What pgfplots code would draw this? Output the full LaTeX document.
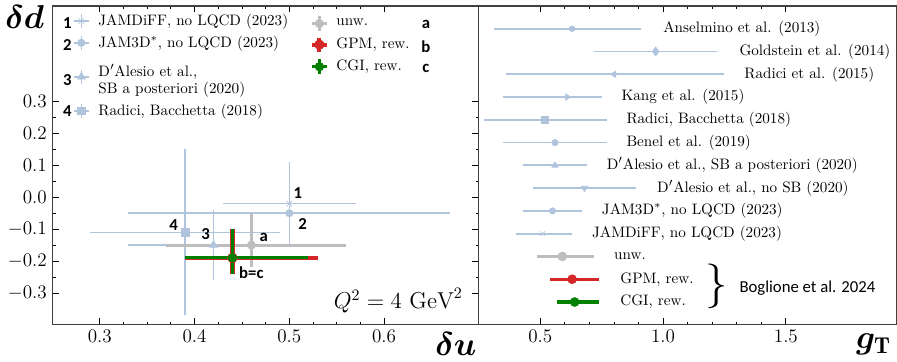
\documentclass[border=0pt]{standalone}
\usepackage{fontspec}
\usepackage{amsmath}
\usepackage{bm}
\usepackage{pgfplots}
\pgfplotsset{compat=1.18}
\newfontfamily\calib{Carlito}
\definecolor{lsb}{RGB}{176,196,222}
\definecolor{ugrey}{RGB}{190,190,190}
\definecolor{gred}{RGB}{214,39,40}
\definecolor{cgreen}{RGB}{0,128,0}
\newcommand{\fs}{\fontsize{9.5}{10.5}\selectfont}
\newcommand{\nf}{\calib\bfseries\fontsize{10.5}{12}\selectfont}
\pgfplotsset{
 errleg/.style={legend image code/.code={
   \draw[##1, line width=#1] (0pt,0pt) -- (9pt,0pt);
   \draw[##1, line width=#1] (4.5pt,-4.5pt) -- (4.5pt,4.5pt);
   \draw[##1] plot coordinates {(4.5pt,0pt)};
   \path (13pt,0pt);
 }},
 common/.style={
   scale only axis, height=200pt,
   tick align=inside, tick pos=both,
   major tick length=4pt, minor tick length=2pt,
   every tick/.style={black, line width=0.5pt},
   axis line style={line width=0.8pt, black!75},
   tick label style={font=\large},
   xticklabel style={/pgf/number format/fixed, /pgf/number format/fixed zerofill, /pgf/number format/precision=1},
   yticklabel style={/pgf/number format/fixed, /pgf/number format/fixed zerofill, /pgf/number format/precision=1},
   scaled ticks=false,
 },
}
\begin{document}
\begin{tikzpicture}
% ---------------- left panel ----------------
\begin{axis}[common, at={(0pt,0pt)}, anchor=south west, width=267.5pt,
 xmin=0.25, xmax=0.70, ymin=-0.4, ymax=0.6,
 xtick={0.3,0.4,0.5,0.6}, ytick={-0.3,-0.2,-0.1,0,0.1,0.2,0.3},
 minor x tick num=3, minor y tick num=1,
 xlabel={$\bm{\delta u}$}, xlabel style={at={(axis description cs:0.946,-0.06)}, anchor=center, font=\huge},
 ylabel={$\bm{\delta d}$}, ylabel style={at={(axis description cs:-0.065,0.966)}, anchor=center, rotate=-90, font=\huge},
 legend style={at={(axis description cs:0.045,0.99)}, anchor=north west, draw=none, fill=none, font=\fs, row sep=1pt, inner sep=1pt, cells={align=left}},
 legend cell align=left,
]
% 1 JAMDiFF
\addplot[lsb, only marks, mark=x, mark size=2.5pt, errleg=0.9pt,
  error bars/.cd, x dir=both, x explicit, y dir=both, y explicit, error mark=none, error bar style={lsb, line width=0.9pt}]
  coordinates {(0.50,-0.02) +- (0.07,0.13)};
\addlegendentry{JAMDiFF, no LQCD (2023)}
% 2 JAM3D*
\addplot[lsb, only marks, mark=*, mark size=2.3pt, errleg=0.9pt,
  error bars/.cd, x dir=both, x explicit, y dir=both, y explicit, error mark=none, error bar style={lsb, line width=0.9pt}]
  coordinates {(0.50,-0.05) +- (0.17,0.10)};
\addlegendentry{JAM3D$^*$, no LQCD (2023)}
% 3 D'Alesio SB a posteriori
\addplot[lsb, only marks, mark=triangle*, mark size=2.8pt, errleg=0.9pt,
  error bars/.cd, x dir=both, x explicit, y dir=both, y explicit, error mark=none, error bar style={lsb, line width=0.9pt}]
  coordinates {(0.42,-0.15) +- (0.09,0.11)};
\addlegendentry{\rule{0pt}{12pt}D$'$Alesio et al.,\\SB a posteriori (2020)}
% 4 Radici Bacchetta
\addplot[lsb, only marks, mark=square*, mark size=2.4pt, errleg=0.9pt,
  error bars/.cd, x dir=both, x explicit, y dir=both, y explicit, error mark=none, error bar style={lsb, line width=0.9pt}]
  coordinates {(0.39,-0.11) +- (0.10,0.26)};
\addlegendentry{Radici, Bacchetta (2018)}
% a unw
\addplot[ugrey, only marks, mark=*, mark size=2.6pt, forget plot,
  error bars/.cd, x dir=both, x explicit, y dir=both, y explicit, error mark=none, error bar style={ugrey, line width=1.9pt}]
  coordinates {(0.46,-0.15) += (0.10,0.10) -= (0.09,0.07)};
% b GPM
\addplot[gred, only marks, mark=*, mark size=3.0pt, forget plot,
  error bars/.cd, x dir=both, x explicit, y dir=both, y explicit, error mark=none, error bar style={gred, line width=2.6pt}]
  coordinates {(0.44,-0.19) += (0.09,0.09) -= (0.05,0.05)};
% c CGI
\addplot[cgreen, only marks, mark=*, mark size=2.7pt, forget plot,
  error bars/.cd, x dir=both, x explicit, y dir=both, y explicit, error mark=none, error bar style={cgreen, line width=1.7pt}]
  coordinates {(0.44,-0.19) += (0.08,0.09) -= (0.05,0.05)};
% numbers in legend
\node[font=\nf] at (rel axis cs:0.035,0.947) {1};
\node[font=\nf] at (rel axis cs:0.035,0.878) {2};
\node[font=\nf] at (rel axis cs:0.035,0.769) {3};
\node[font=\nf] at (rel axis cs:0.035,0.669) {4};
\node[font=\nf] at (rel axis cs:0.876,0.941) {a};
\node[font=\nf] at (rel axis cs:0.876,0.872) {b};
\node[font=\nf] at (rel axis cs:0.876,0.803) {c};
% labels at points
\node[font=\nf] at (axis cs:0.509,0.013) {1};
\node[font=\nf] at (axis cs:0.514,-0.083) {2};
\node[font=\nf] at (axis cs:0.4116,-0.116) {3};
\node[font=\nf] at (axis cs:0.378,-0.087) {4};
\node[font=\nf] at (axis cs:0.473,-0.126) {a};
\node[font=\nf] at (axis cs:0.46,-0.237) {b=c};
\node[font=\Large] at (rel axis cs:0.811,0.075) {$Q^2 = 4\ \mathrm{GeV}^2$};
\end{axis}
% ---------------- legend 2 overlay ----------------
\begin{axis}[at={(0pt,0pt)}, anchor=south west, scale only axis, width=267.5pt, height=200pt,
 xmin=0, xmax=1, ymin=0, ymax=1, hide axis,
 legend style={at={(axis description cs:0.60,0.978)}, anchor=north west, draw=none, fill=none, font=\fs, row sep=1.6pt, inner sep=1pt},
 legend cell align=left]
\addplot[draw=none, forget plot] coordinates {(0.5,0.5)};
\addlegendimage{ugrey, only marks, mark=*, mark size=2.6pt, errleg=2pt}
\addlegendentry{unw.}
\addlegendimage{gred, only marks, mark=*, mark size=3pt, errleg=2.6pt}
\addlegendentry{GPM, rew.}
\addlegendimage{cgreen, only marks, mark=*, mark size=2.7pt, errleg=2.2pt}
\addlegendentry{CGI, rew.}
\end{axis}
% ---------------- right panel ----------------
\begin{axis}[common, at={(267.5pt,0pt)}, anchor=south west, width=261.9pt,
 xmin=0.25, xmax=1.95, ymin=0, ymax=14,
 xtick={0.5,1,1.5}, minor x tick num=4, ytick=\empty,
 xlabel={$\bm{g}_{\mathbf{T}}$}, xlabel style={at={(axis description cs:0.945,-0.06)}, anchor=center, font=\huge},
]
\pgfplotsset{rb/.style={only marks, error bars/.cd, x dir=both, x explicit, error mark=none, error bar style={#1}}}
\addplot[lsb, mark=*, mark size=1.8pt, rb={lsb,line width=1.1pt}] coordinates {(0.63,13) += (0.28,0) -= (0.32,0)};
\addplot[lsb, mark=diamond*, mark size=2.8pt, rb={lsb,line width=1.1pt}] coordinates {(0.97,12) +- (0.25,0)};
\addplot[lsb, mark=triangle*, mark options={rotate=90}, mark size=2.3pt, rb={lsb,line width=1.1pt}] coordinates {(0.80,11) += (0.45,0) -= (0.44,0)};
\addplot[lsb, mark=triangle*, mark options={rotate=-90}, mark size=2.3pt, rb={lsb,line width=1.1pt}] coordinates {(0.61,10) += (0.14,0) -= (0.26,0)};
\addplot[lsb, mark=square*, mark size=2.2pt, rb={lsb,line width=1.1pt}] coordinates {(0.52,9) +- (0.25,0)};
\addplot[lsb, mark=*, mark size=2pt, rb={lsb,line width=1.1pt}] coordinates {(0.56,8) +- (0.21,0)};
\addplot[lsb, mark=triangle*, mark size=2.3pt, rb={lsb,line width=1.1pt}] coordinates {(0.56,7) +- (0.13,0)};
\addplot[lsb, mark=triangle*, mark options={rotate=180}, mark size=2.3pt, rb={lsb,line width=1.1pt}] coordinates {(0.68,6) +- (0.21,0)};
\addplot[lsb, mark=*, mark size=2pt, rb={lsb,line width=1.1pt}] coordinates {(0.55,5) +- (0.12,0)};
\addplot[lsb, mark=x, mark size=2pt, rb={lsb,line width=1.1pt}] coordinates {(0.51,4) += (0.12,0) -= (0.11,0)};
\addplot[ugrey, mark=*, mark size=2.8pt, rb={ugrey,line width=2pt}] coordinates {(0.59,3) += (0.13,0) -= (0.105,0)};
\addplot[gred, mark=*, mark size=2.8pt, rb={gred,line width=1.9pt}] coordinates {(0.63,2) += (0.11,0) -= (0.09,0)};
\addplot[cgreen, mark=*, mark size=2.8pt, rb={cgreen,line width=1.9pt}] coordinates {(0.64,1) += (0.10,0) -= (0.07,0)};
\begin{scope}[every node/.style={anchor=west, inner sep=0pt, font=\fs}]
\node at (axis cs:1.00,13) {Anselmino et al. (2013)};
\node at (axis cs:1.31,12) {Goldstein et al. (2014)};
\node at (axis cs:1.33,11) {Radici et al. (2015)};
\node at (axis cs:0.83,10) {Kang et al. (2015)};
\node at (axis cs:0.85,9) {Radici,\ Bacchetta (2018)};
\node at (axis cs:0.85,8) {Benel et al. (2019)};
\node at (axis cs:0.77,7) {D$'$Alesio et al.,\ SB a posteriori (2020)};
\node at (axis cs:0.975,6) {D$'$Alesio et al.,\ no SB (2020)};
\node at (axis cs:0.75,5) {JAM3D$^*$,\ no LQCD (2023)};
\node at (axis cs:0.71,4) {JAMDiFF,\ no LQCD (2023)};
\node at (axis cs:0.80,3) {unw.};
\node at (axis cs:0.825,2) {GPM,\ rew.};
\node at (axis cs:0.825,1) {CGI,\ rew.};
\end{scope}
\node[inner sep=0pt] at (axis cs:1.217,1.7) {\fontsize{28}{28}\selectfont\}};
\node[anchor=west, inner sep=0pt, font=\calib\fontsize{10.5}{12}\selectfont] at (axis cs:1.31,1.6) {Boglione et al. 2024};
\end{axis}
\path (-31.25pt,-23.1pt) rectangle (529.4pt,202.5pt);
\end{tikzpicture}
\end{document}
